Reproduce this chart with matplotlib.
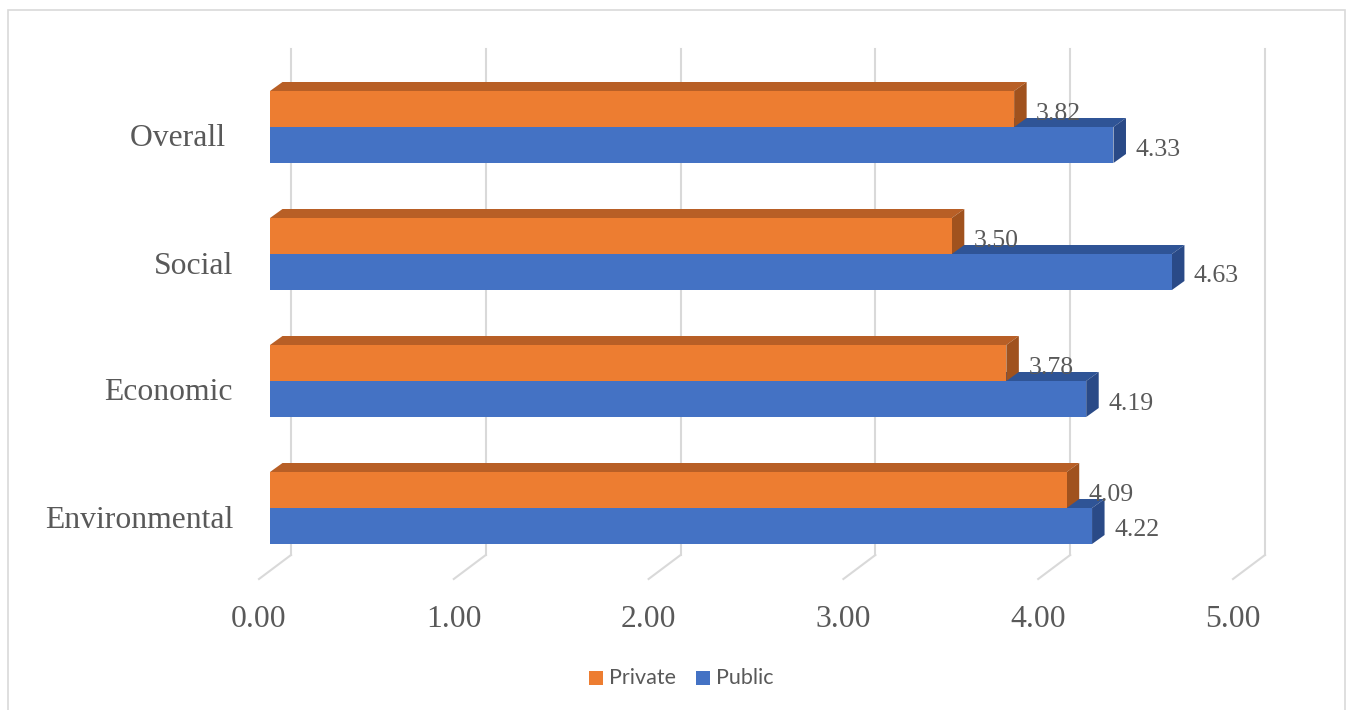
import matplotlib.pyplot as plt
from matplotlib.patches import Polygon, Rectangle
from matplotlib import transforms

categories = ['Environmental', 'Economic', 'Social', 'Overall ']
private = [4.09, 3.78, 3.50, 3.82]
public = [4.22, 4.19, 4.63, 4.33]
ticks = [0, 1, 2, 3, 4, 5]
tick_labels = ['0.00', '1.00', '2.00', '3.00', '4.00', '5.00']

W, H = 1349, 710
px = 194.8   # pixels per value unit
py = 127     # pixels between categories
txt = '#595959'
grid = '#D9D9D9'

fig = plt.figure(figsize=(W / 100, H / 100), dpi=100)
ax = fig.add_axes([270 / W, 0, 5 * px / W, 1])
ax.set_xlim(0, 5)
ax.set_ylim(-202 / py, (H - 202) / py)
ax.axis('off')


def shift(dx, dy):
    # offset in display pixels, used for the fake 3d depth
    return ax.transData + transforms.Affine2D().translate(dx, dy)


# back wall gridlines + floor lines
ybot, ytop = -62.75 / py, 443.25 / py
for v, lab in zip(ticks, tick_labels):
    ax.plot([v, v], [ybot, ytop], color=grid, lw=1.5, transform=shift(21, 15.75),
            zorder=1, clip_on=False)
    ax.plot([v, v - 32 / px], [ybot, ybot - 24 / py], color=grid, lw=1.5,
            transform=shift(21, 15.75), zorder=1, clip_on=False)
    ax.text(v, ybot, lab, transform=shift(-11, -48.5),
            ha='center', va='center', fontsize=22.8, color=txt, family='Liberation Serif')

h = 36 / py
ddx, ddy = 12.5 / px, 9 / py


def bar3d(v, y0, front, top, side):
    ax.add_patch(Polygon([(0, y0 + h), (v, y0 + h), (v + ddx, y0 + h + ddy), (ddx, y0 + h + ddy)],
                         closed=True, fc=top, ec='none', zorder=2, clip_on=False))
    ax.add_patch(Polygon([(v, y0), (v + ddx, y0 + ddy), (v + ddx, y0 + h + ddy), (v, y0 + h)],
                         closed=True, fc=side, ec='none', zorder=2, clip_on=False))
    ax.barh(y0, v, height=h, align='edge', color=front, zorder=2)


for i, cat in enumerate(categories):
    bar3d(public[i], i - h, '#4472C4', '#2F5496', '#2A4A87')
    bar3d(private[i], i, '#ED7D31', '#B85F26', '#A0521E')
    ax.text(private[i], i + h / 2, f'{private[i]:.2f}', transform=shift(22, -5),
            ha='left', va='center', fontsize=18.5, color=txt, family='Liberation Serif')
    ax.text(public[i], i - h / 2, f'{public[i]:.2f}', transform=shift(22, -4.5),
            ha='left', va='center', fontsize=18.5, color=txt, family='Liberation Serif')
    ax.text(0, i, cat, transform=shift(-37, -12), ha='right', va='center',
            fontsize=22.8, color=txt, family='Liberation Serif')

# legend
for x0, label, col in [(589, 'Private', '#ED7D31'), (696, 'Public', '#4472C4')]:
    fig.add_artist(Rectangle((x0 / W, 1 - 685 / H), 14 / W, 14 / H, transform=fig.transFigure,
                             fc=col, ec='none'))
    fig.text((x0 + 20) / W, 1 - 678 / H, label, ha='left', va='center', fontsize=15.5,
             color=txt, family='Lato')

# chart border
fig.add_artist(Rectangle((8 / W, -0.02), 1337 / W, 1 - 10 / H + 0.02, transform=fig.transFigure,
                         fill=False, ec=grid, lw=1.2))

fig.savefig('out.png', dpi=100)
